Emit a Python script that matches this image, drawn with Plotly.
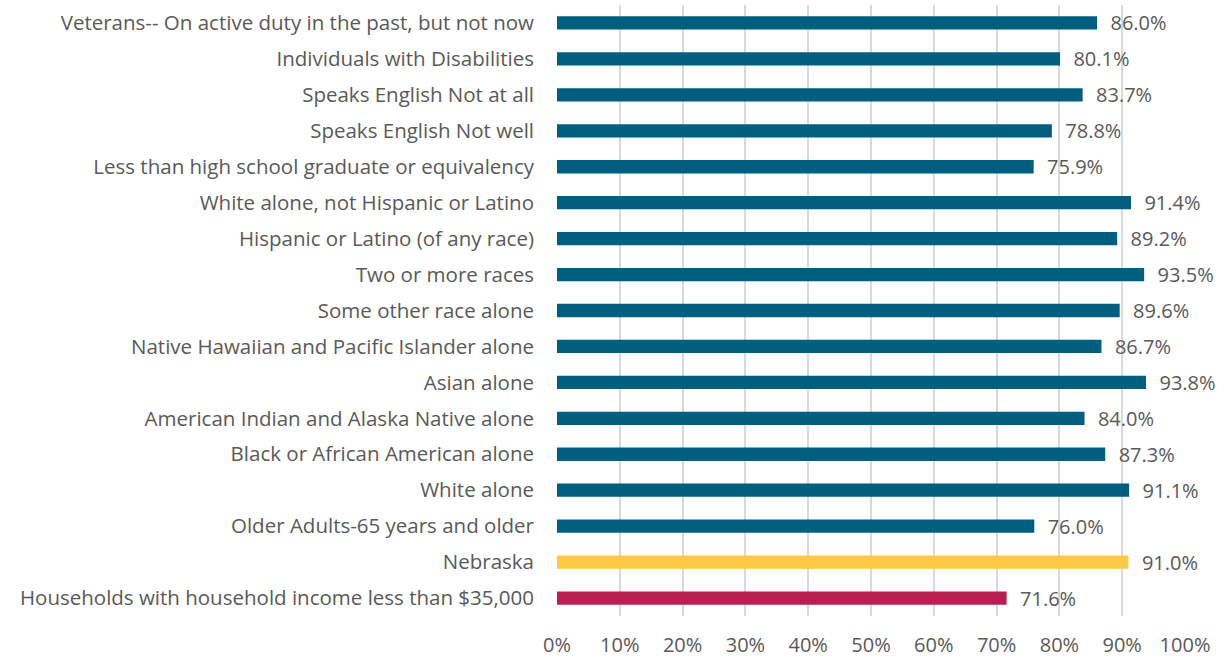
import plotly.graph_objects as go

categories = [
    "Veterans-- On active duty in the past, but not now",
    "Individuals with Disabilities",
    "Speaks English Not at all",
    "Speaks English Not well",
    "Less than high school graduate or equivalency",
    "White alone, not Hispanic or Latino",
    "Hispanic or Latino (of any race)",
    "Two or more races",
    "Some other race alone",
    "Native Hawaiian and Pacific Islander alone",
    "Asian alone",
    "American Indian and Alaska Native alone",
    "Black or African American alone",
    "White alone",
    "Older Adults-65 years and older",
    "Nebraska",
    "Households with household income less than $35,000",
]
values = [86.0, 80.1, 83.7, 78.8, 75.9, 91.4, 89.2, 93.5, 89.6, 86.7, 93.8, 84.0, 87.3, 91.1, 76.0, 91.0, 71.6]
colors = ["#005F7F"] * 15 + ["#FFC845", "#BA1F51"]
tick_vals = list(range(0, 101, 10))
tick_text = [f"{v}%" for v in tick_vals]

fig = go.Figure(go.Bar(
    x=values,
    y=categories,
    orientation="h",
    marker=dict(color=colors, line=dict(width=0)),
    width=0.37,
    text=[f"\u00a0\u00a0{v:.1f}%" for v in values],
    textposition="outside",
    constraintext="none",
    textfont=dict(size=20, color="#595959"),
    cliponaxis=False,
))

fig.update_layout(
    width=1224, height=660,
    margin=dict(l=557, r=39, t=5, b=44),
    paper_bgcolor="white",
    plot_bgcolor="white",
    font=dict(family="Open Sans, Liberation Sans, sans-serif", size=20, color="#595959"),
    showlegend=False,
)
fig.update_xaxes(
    range=[0, 100],
    tickvals=tick_vals,
    ticktext=tick_text,
    showgrid=True,
    gridcolor="#D9D9D9",
    gridwidth=1.5,
    zeroline=False,
    showline=False,
    ticks="",
    tickfont=dict(size=20, color="#595959"),
    ticklabelstandoff=15,
    automargin=False,
)
fig.update_yaxes(
    autorange="reversed",
    showgrid=False,
    showline=False,
    ticks="",
    tickfont=dict(size=20.5, color="#595959"),
    ticklabelstandoff=22,
    automargin=False,
)

fig.write_html(
    "out.html",
    config={"displayModeBar": False},
    post_script="document.body.style.margin='0';document.body.style.overflow='hidden';",
)
